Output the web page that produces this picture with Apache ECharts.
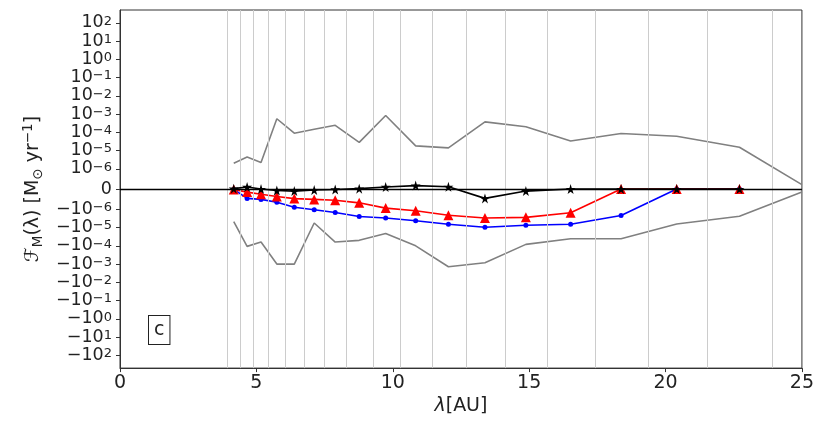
<!DOCTYPE html>
<html><head><meta charset="utf-8">
<script src="https://cdn.jsdelivr.net/npm/echarts@6/dist/echarts.min.js"></script>
<style>html,body{margin:0;padding:0;background:#fff}#c{width:817px;height:421px}</style>
</head><body><div id="c"></div>
<script>
// bin centres (AU)
const lam = [4.17, 4.66, 5.17, 5.75, 6.39, 7.12, 7.89, 8.77, 9.74, 10.84, 12.04, 13.38, 14.88, 16.52, 18.37, 20.41, 22.71];
// envelope x positions (extends to outer edge)
const lamEnv = [4.17, 4.66, 5.17, 5.75, 6.39, 7.12, 7.89, 8.77, 9.74, 10.84, 12.04, 13.38, 14.88, 16.52, 18.37, 20.41, 22.71, 25.0];
// bin edges (vertical guide lines)
const binEdges = [3.95, 4.41, 4.90, 5.44, 6.05, 6.74, 7.49, 8.29, 9.27, 10.27, 11.43, 12.71, 14.11, 15.68, 17.43, 19.38, 21.52, 23.92];
// mass flux values, M_sun/yr
const upperEnv = [2.0e-6, 4.4e-6, 2.2e-6, 5.5e-4, 8.9e-5, 1.45e-4, 2.4e-4, 2.8e-5, 8.3e-4, 1.8e-5, 1.4e-5, 3.7e-4, 2.0e-4, 3.3e-5, 8.5e-5, 6.1e-5, 1.5e-5, 2.2e-7];
const lowerEnv = [-4.7e-6, -1.07e-4, -6.2e-5, -1.0e-3, -1.0e-3, -5.6e-6, -6.2e-5, -5.0e-5, -2.1e-5, -1.0e-4, -1.4e-3, -8.5e-4, -8.3e-5, -4.1e-5, -4.1e-5, -6.4e-6, -2.4e-6, -1.5e-7];
const blueFlux = [-2e-8, -4.6e-7, -5.1e-7, -6.5e-7, -9.0e-7, -1.06e-6, -1.48e-6, -2.45e-6, -3.0e-6, -4.2e-6, -6.6e-6, -9.5e-6, -7.4e-6, -6.6e-6, -2.2e-6, 0, 0];
const redFlux = [-2e-8, -1.5e-7, -2.6e-7, -3.7e-7, -4.7e-7, -5.1e-7, -5.5e-7, -6.8e-7, -9.4e-7, -1.2e-6, -2.1e-6, -3.0e-6, -2.75e-6, -1.55e-6, 0, 0, 0];
const blackFlux = [2e-8, 1.0e-7, 0, -7e-8, -1.0e-7, -5e-8, -2e-8, 2e-8, 1.0e-7, 1.7e-7, 1.1e-7, -4.6e-7, -1.0e-7, 0, 0, 0, 0];
// y tick exponents (symmetric)
const tickExps = [-6, -5, -4, -3, -2, -1, 0, 1, 2];
const xTicks = [0, 5, 10, 15, 20, 25];
const yLimit = 500;

// symlog transform (linthresh 1e-6, linscale 1, base 10)
const LT = 1e-6, LS = 1 / (1 - 1 / 10);
function symlog(v) {
  const a = Math.abs(v);
  if (a <= LT) return v / LT * LS;
  return Math.sign(v) * (LS + Math.log10(a / LT));
}
function pairs(xs, ys) { return xs.map((x, i) => [x, symlog(ys[i])]); }

const yTickVals = [0];
tickExps.forEach(e => { const t = symlog(Math.pow(10, e)); yTickVals.push(t, -t); });
yTickVals.sort((a, b) => a - b);
const M = '\u2212';
function yFmt(t) {
  if (Math.abs(t) < 1e-9) return '{b|0}';
  const e = Math.round(Math.abs(t) - LS + Math.log10(LT));
  const es = (e < 0 ? M + Math.abs(e) : String(e));
  return '{b|' + (t < 0 ? M : '') + '10}{s|' + es + '}';
}

const star = 'path://M50,0 L61,35 L98,35 L68,57 L79,91 L50,70 L21,91 L32,57 L2,35 L39,35 Z';
const FONT = 'DejaVu Sans';
const FS = 19, FSS = 13.5, FSY = 17.5, FSYS = 13;

const chart = echarts.init(document.getElementById('c'), null, {renderer: 'canvas'});
chart.setOption({
  animation: false,
  textStyle: {fontFamily: FONT},
  grid: {left: 120, right: 12, top: 10, bottom: 49, show: true, borderColor: '#333', borderWidth: 1},
  xAxis: {
    type: 'value', min: xTicks[0], max: xTicks[xTicks.length - 1], interval: 5,
    axisLine: {show: true, onZero: false, lineStyle: {color: '#333'}},
    axisTick: {show: true, length: 4, lineStyle: {color: '#333'}},
    axisLabel: {fontSize: FS, color: '#222', margin: 5, fontFamily: FONT, showMinLabel: true, showMaxLabel: true},
    splitLine: {show: false},
    name: '{i|λ}{n|[AU]}', nameLocation: 'middle', nameGap: 27,
    nameTextStyle: {rich: {i: {fontSize: FS, fontStyle: 'italic', color: '#222', fontFamily: FONT}, n: {fontSize: FS, color: '#222', fontFamily: FONT}}}
  },
  yAxis: {
    type: 'value', min: -symlog(yLimit), max: symlog(yLimit),
    axisLine: {show: true, onZero: false, lineStyle: {color: '#333'}},
    axisTick: {show: true, length: 4, customValues: yTickVals, lineStyle: {color: '#333'}},
    axisLabel: {customValues: yTickVals, formatter: yFmt, margin: 8, showMinLabel: true, showMaxLabel: true, hideOverlap: false,
      rich: {b: {fontSize: FSY, lineHeight: 16, color: '#222', fontFamily: FONT},
             s: {fontSize: FSYS, lineHeight: 6, verticalAlign: 'top', color: '#222', fontFamily: FONT}}},
    splitLine: {show: false},
    name: '{f|ℱ}{sub|M}{n|(λ) [M}{o|⊙}{n| yr}{sup|−1}{n|]}', nameLocation: 'middle', nameGap: 74, nameRotate: 90,
    nameTextStyle: {rich: {
      f: {fontSize: FS, lineHeight: 24, color: '#222', fontFamily: FONT, fontStyle: 'italic'},
      sub: {fontSize: FSS, lineHeight: 13, verticalAlign: 'bottom', color: '#222', fontFamily: FONT},
      n: {fontSize: FS, lineHeight: 24, color: '#222', fontFamily: FONT},
      o: {fontSize: FSS, lineHeight: 17, verticalAlign: 'bottom', color: '#222', fontFamily: FONT},
      sup: {fontSize: FSS, lineHeight: 13, verticalAlign: 'top', color: '#222', fontFamily: FONT}
    }}
  },
  graphic: [{
    type: 'text', left: 148, top: 315, z: 100,
    style: {text: 'c', fontSize: 19, fontFamily: FONT, fill: '#222', backgroundColor: '#fff',
      borderColor: '#222', borderWidth: 1, padding: [5, 5, 4, 5]}
  }],
  series: [
    {type: 'line', name: 'upper', data: pairs(lamEnv, upperEnv), showSymbol: false, symbol: 'none',
     lineStyle: {color: '#808080', width: 1.6}, z: 2,
     markLine: {silent: true, symbol: ['none', 'none'], label: {show: false}, animation: false,
       data: binEdges.map(x => ({xAxis: x, lineStyle: {color: '#cccccc', width: 1, type: 'solid'}}))
         .concat([{yAxis: 0, lineStyle: {color: '#000', width: 1.3, type: 'solid'}}])}},
    {type: 'line', name: 'lower', data: pairs(lamEnv, lowerEnv), symbol: 'none',
     lineStyle: {color: '#808080', width: 1.6}, z: 2},
    {type: 'line', name: 'blue', data: pairs(lam, blueFlux), symbol: 'circle', symbolSize: 5,
     itemStyle: {color: '#0000ff'}, lineStyle: {color: '#0000ff', width: 1.6}, z: 3},
    {type: 'line', name: 'red', data: pairs(lam, redFlux), symbol: 'triangle', symbolSize: 10,
     itemStyle: {color: '#ff0000'}, lineStyle: {color: '#ff0000', width: 1.6}, z: 4},
    {type: 'line', name: 'black', data: pairs(lam, blackFlux), symbol: star, symbolSize: 10,
     itemStyle: {color: '#000'}, lineStyle: {color: '#000', width: 1.6}, z: 5}
  ]
});
</script></body></html>
